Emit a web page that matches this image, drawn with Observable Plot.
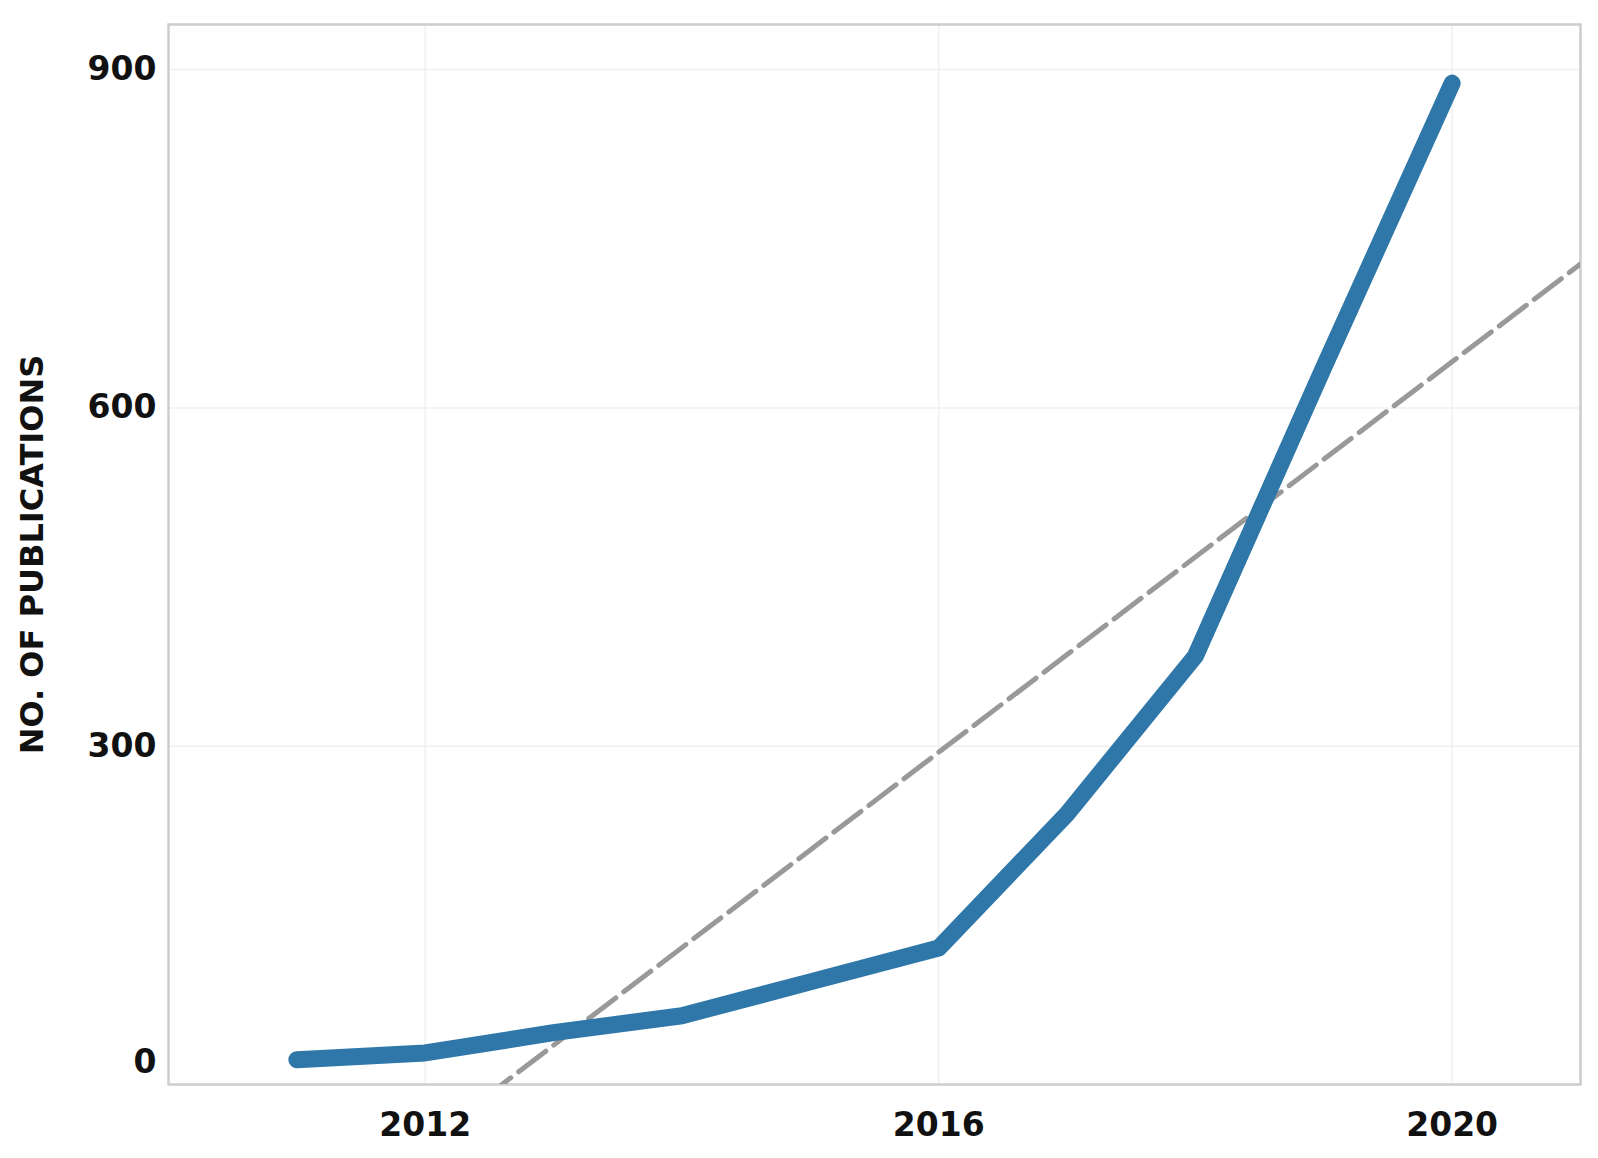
<!DOCTYPE html>
<html>
<head>
<meta charset="utf-8">
<script src="https://cdn.jsdelivr.net/npm/d3@7"></script>
<script src="https://cdn.jsdelivr.net/npm/@observablehq/plot@0.6"></script>
<style>
  html, body { margin: 0; padding: 0; background: #fff; }
  #chart { width: 1598px; height: 1158px; }
</style>
</head>
<body>
<div id="chart"></div>
<script>
// Data
const years = [2011, 2012, 2013, 2014, 2015, 2016, 2017, 2018, 2019, 2020];
const publications = [22, 28, 46, 61, 91, 121, 240, 380, 636, 888];
const yTicks = [0, 300, 600, 900];
const xTicks = [2012, 2016, 2020];
const yTitle = "NO. OF PUBLICATIONS";

const data = years.map((year, i) => ({year, value: publications[i]}));

// Linear trend (least squares) computed from the data
const xDomain = [2010, 2021];
const mx = d3.mean(years), my = d3.mean(publications);
const slope = d3.sum(years, (x, i) => (x - mx) * (publications[i] - my)) / d3.sum(years, x => (x - mx) ** 2);
const intercept = my - slope * mx;
const trend = xDomain.map(year => ({year, value: intercept + slope * year}));

const font = "DejaVu Sans, sans-serif";

const chart = Plot.plot({
  width: 1598,
  height: 1158,
  marginLeft: 168,
  marginTop: 24,
  marginRight: 18,
  marginBottom: 74,
  style: {fontFamily: font, background: "#fff", color: "#111"},
  x: {domain: xDomain},
  y: {domain: [0, 940]},
  marks: [
    Plot.gridY(yTicks, {stroke: "#f0f0f0", strokeOpacity: 1, strokeWidth: 1.5}),
    Plot.gridX(xTicks, {stroke: "#f0f0f0", strokeOpacity: 1, strokeWidth: 1.5}),
    Plot.frame({stroke: "#cdcdcd", strokeWidth: 2.5}),
    Plot.line(trend, {x: "year", y: "value", stroke: "#999999", strokeWidth: 5, strokeDasharray: "34,10", clip: true}),
    Plot.line(data, {x: "year", y: "value", stroke: "#2e77a8", strokeWidth: 17, strokeLinecap: "round", strokeLinejoin: "round"}),
    Plot.axisY(yTicks.filter(t => t !== 0), {tickSize: 0, tickPadding: 12, fontSize: 33, fontWeight: "bold", fill: "#111", label: null}),
    Plot.axisY([0], {tickSize: 0, tickPadding: 12, fontSize: 33, fontWeight: "bold", fill: "#111", label: null, dy: -22}),
    Plot.axisX(xTicks, {tickSize: 0, tickPadding: 28, fontSize: 33, fontWeight: "bold", fill: "#111", tickFormat: d => String(d), label: null}),
    Plot.text([yTitle], {text: d => d, frameAnchor: "left", textAnchor: "middle", dx: -136, rotate: -90, fontSize: 32, fontWeight: "bold", fill: "#111"})
  ]
});

document.getElementById("chart").appendChild(chart);
</script>
</body>
</html>
